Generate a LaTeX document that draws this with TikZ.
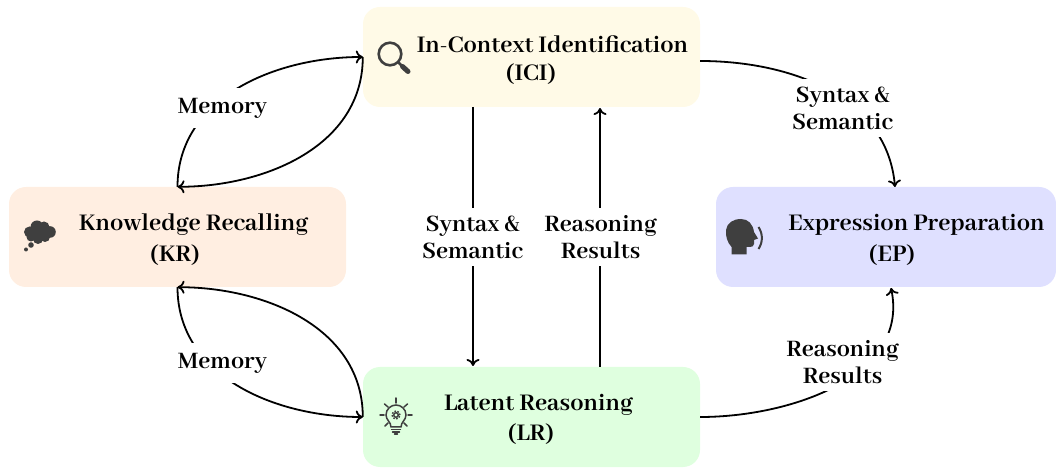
\documentclass[tikz,border=0pt]{standalone}
\usepackage{fontspec}
\setmainfont{Abhaya Libre}[BoldFont={* Bold}]
\usetikzlibrary{arrows.meta}
\definecolor{icibg}{HTML}{FFFAE7}
\definecolor{krbg}{HTML}{FFEEE1}
\definecolor{lrbg}{HTML}{DFFFDF}
\definecolor{epbg}{HTML}{DFE0FF}
\definecolor{ink}{HTML}{3F3F3F}
\tikzset{
  x=1pt,y=1pt,
  stagebox/.style={rounded corners=17pt,minimum height=100pt,inner sep=0pt,draw=none},
  title/.style={font=\fontsize{26.3}{27}\selectfont\bfseries,inner sep=0pt,text=black},
  flow/.style={line width=1.8pt,-{Computer Modern Rightarrow[length=7pt,width=13pt]}},
  tag/.style={font=\fontsize{26}{27}\selectfont\bfseries,fill=white,inner sep=1pt,align=center,text=black},
  icon/.style={ink,line cap=round},
}
\begin{document}
\begin{tikzpicture}
\useasboundingbox (0,0) rectangle (1056,468);
\node[stagebox,fill=icibg,minimum width=337pt] (ici) at (531.5,411) {};
\node[stagebox,fill=krbg,minimum width=337pt] (kr) at (177.5,231) {};
\node[stagebox,fill=lrbg,minimum width=337pt] (lr) at (531.5,51) {};
\node[stagebox,fill=epbg,minimum width=340pt] (ep) at (886,231) {};
% connector ends
\coordinate (iciE) at (700,407);
\coordinate (epN) at (895,281);
\coordinate (epS) at (891,180);
\coordinate (iciA) at (473,361);
\coordinate (lrA) at (473,102);
\coordinate (lrB) at (600,101);
\coordinate (iciB) at (600,360);
% connectors
\draw[flow] (kr.north) to[out=90,in=180] (ici.west);
\draw[flow] (ici.west) to[out=-90,in=0] (kr.north);
\draw[flow] (kr.south) to[out=-90,in=180] (lr.west);
\draw[flow] (lr.west) to[out=90,in=0] (kr.south);
\draw[flow] (iciA) -- (lrA);
\draw[flow] (lrB) -- (iciB);
\draw[flow] (iciE) to[out=0,in=95] (epN);
\draw[flow] (lr.east) to[out=0,in=-78] (epS);
% connector labels
\node[tag,minimum width=93pt,minimum height=40pt] (m1) at (222.5,360) {Memory};
\node[tag,minimum width=93pt,minimum height=40pt] (m2) at (222.5,105) {Memory};
\node[tag,minimum height=58pt] (ss1) at (472.5,231) {Syntax \&\\Semantic};
\node[tag,minimum height=58pt] (rr1) at (600.5,231) {Reasoning\\Results};
\node[tag,minimum height=58pt] (ss2) at (842.5,360) {Syntax \&\\Semantic};
\node[tag,minimum height=58pt] (rr2) at (842.5,106) {Reasoning\\Results};
% titles
\node[title] (t1) at (552.5,423.5) {In-Context Identification};
\node[title] (t1b) at (531,393.5) {(ICI)};
\node[title] (t2) at (193.5,243.5) {Knowledge Recalling};
\node[title] (t2b) at (175,213) {(KR)};
\node[title] (t3) at (538.5,63.5) {Latent Reasoning};
\node[title] (t3b) at (531,33.5) {(LR)};
\node[title] (t4) at (916.5,243.5) {Expression Preparation};
\node[title] (t4b) at (892,213) {(EP)};
% magnifier
\draw[icon,line width=2.6pt] (390,414) circle (11.3);
\draw[icon,line width=2.6pt] (398.2,405.8) -- (401,403);
\draw[icon,line width=5pt] (402.5,401.5) -- (408,396.5);
% thought cloud
\fill[ink] (29.5,236) circle (5.5) (37,241) circle (6.5) (44,241) circle (5.5) (50,236) circle (5.8)
  (45,231) circle (5) (38,229) circle (5) (31,231) circle (4.5) (38,235) circle (6);
\fill[ink] (31,223) circle (2.8) (26,218.5) circle (2);
% head
\fill[ink] (731.5,213.5) -- (731.5,221)
  .. controls (727,226) and (725.5,232) .. (726,238)
  .. controls (727,245) and (733,249) .. (741,249)
  .. controls (748,249) and (753,244) .. (754,236)
  -- (758,229.5) -- (754,228) -- (754,224)
  .. controls (754,222) and (752,221) .. (750,221)
  -- (746.5,221) -- (746.5,213.5) -- cycle;
\draw[ink,line width=2pt] (758.5,241) .. controls (763,234) and (763,226) .. (758.5,219);
% bulb
\draw[icon,line width=1.5pt] (396,70) -- (396,65);
\draw[icon,line width=1.5pt] (380,53) -- (384,53) (408,53) -- (412,53);
\draw[icon,line width=1.5pt] (384.5,64) -- (388,61) (407.5,64) -- (404,61);
\draw[icon,line width=1.5pt] (385,42) -- (388,45) (407,42) -- (404,45);
\draw[icon,line width=1.5pt] (391,41) .. controls (391,46) and (386,48) .. (386,53)
  .. controls (386,59) and (391,63) .. (396,63)
  .. controls (401,63) and (406,59) .. (406,53)
  .. controls (406,48) and (401,46) .. (401,41) -- cycle;
\draw[icon,line width=1.4pt] (396,53) circle (2.3);
\draw[icon,line width=1.4pt,line cap=butt,dash pattern=on 1.6pt off 1.5pt] (396,53) circle (4);
\draw[icon,line width=1.4pt] (391.5,38.5) -- (400.5,38.5) (392.5,36) -- (399.5,36) (394.5,34) -- (397.5,34);
\end{tikzpicture}
\end{document}
